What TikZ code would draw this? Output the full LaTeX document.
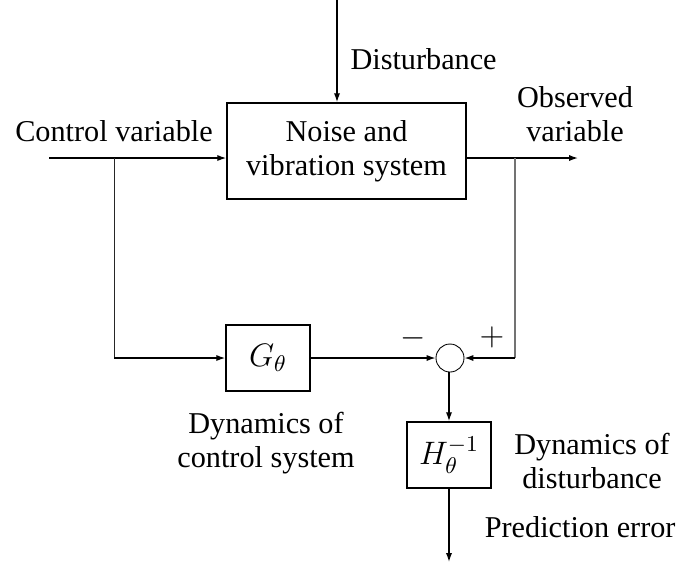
\RequirePackage{fix-cm}
\documentclass[tikz,border=0pt]{standalone}
\usepackage[no-math]{fontspec}
\setmainfont{Liberation Serif}
\usetikzlibrary{arrows.meta}
\begin{document}
\begin{tikzpicture}[x=0.4pt, y=-0.4pt,
  every node/.style={font=\fontsize{12.1pt}{13.6pt}\selectfont, inner sep=0pt},
  block/.style={draw, line width=0.6pt, minimum width=33.6pt, minimum height=26.4pt,
    font=\fontsize{13pt}{14pt}\selectfont},
  sumpoint/.style={draw, circle, line width=0.35pt, minimum size=11.2pt},
  signal/.style={line width=0.55pt},
  flow/.style={signal, -{Latex[length=3.6pt,width=2.5pt]}},
  branchleft/.style={line width=0.4pt, black!85},
  branchright/.style={line width=0.6pt, black!55},
  label/.style={align=center, anchor=base}]
  \useasboundingbox (0,0) rectangle (680,563);

  % blocks
  \node[draw, line width=0.6pt, minimum width=95.6pt, minimum height=38.4pt, align=center]
    (plant) at (346.5,151) {Noise and\\vibration system};
  \node[block] (G) at (268,358) {$G_\theta$};
  \node[sumpoint] (sum) at (450,358) {};
  \node[block] (H) at (449,455) {$H_\theta^{-1}$};

  % free ends and branch points
  \coordinate (dist) at (337,0);
  \coordinate (in) at (49,158);
  \coordinate (out) at (578,158);
  \coordinate (bl) at (114,158);
  \coordinate (br) at (515,158);
  \coordinate (bl2) at (114,358);
  \coordinate (br2) at (515,358);
  \coordinate (err) at (449,562);

  % signal paths
  \draw[flow] (dist) -- (dist |- plant.north);
  \draw[flow] (in) -- (in -| plant.west);
  \draw[flow] (out -| plant.east) -- (out);
  \draw[branchleft] (bl) -- (bl2);
  \draw[branchright] (br) -- (br2);
  \draw[flow] (bl2) -- (G.west);
  \draw[flow] (G.east) -- (sum.west);
  \draw[flow] (br2) -- (sum.east);
  \draw[flow] (sum.south) -- (sum.south -| H.north) -- (H.north);
  \draw[flow] (H.south) -- (err);

  % labels (multi-line labels sit on the baseline of their last line)
  \node[anchor=base] (lcv) at (114,141) {Control variable};
  \node[anchor=base west] (ldist) at (350,69) {Disturbance};
  \node[label] (lobs) at (575,141) {Observed\\variable};
  \node[label] (ldg) at (266,467) {Dynamics of\\control system};
  \node[label] (ldh) at (592,488) {Dynamics of\\disturbance};
  \node[anchor=base east] (lerr) at (676,537) {Prediction error};
  \node[font=\fontsize{13pt}{14pt}\selectfont] (lminus) at (413,338) {$-$};
  \node[font=\fontsize{13pt}{14pt}\selectfont] (lplus) at (492,337) {$+$};
\end{tikzpicture}
\end{document}
